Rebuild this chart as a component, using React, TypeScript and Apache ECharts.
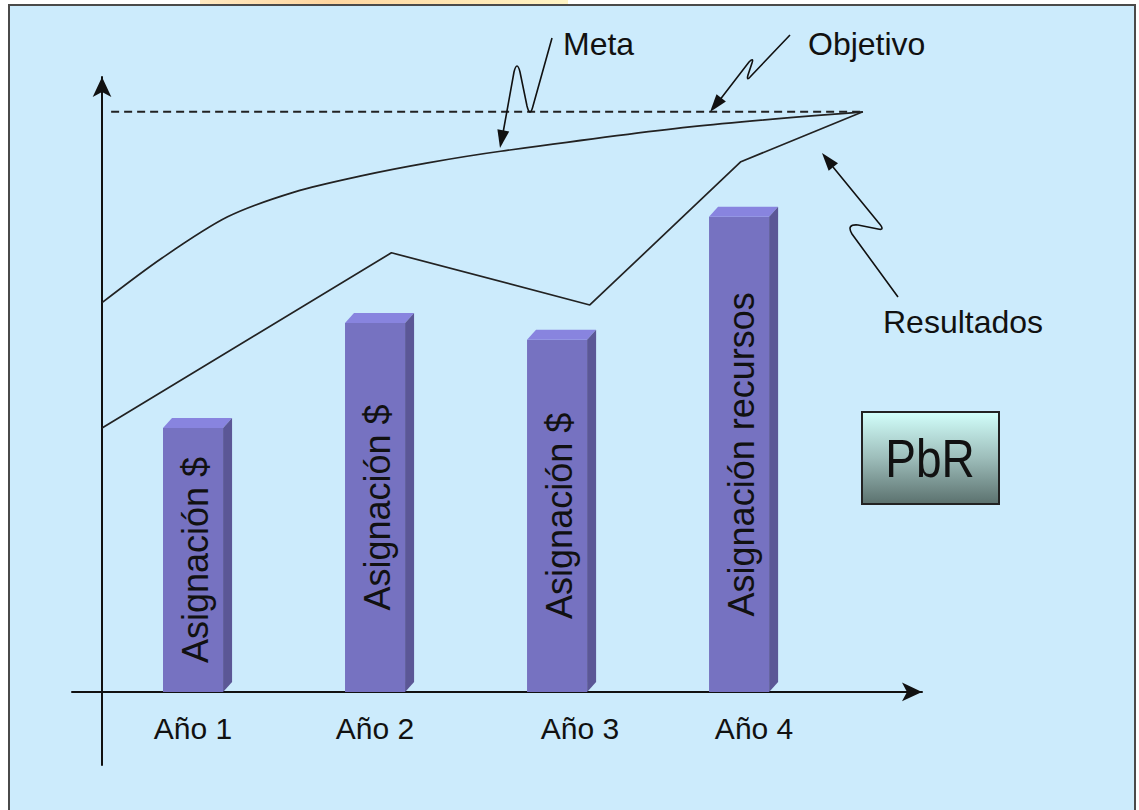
import React, { useEffect, useRef } from 'react';
import * as echarts from 'echarts';

const categories = ['Año 1', 'Año 2', 'Año 3', 'Año 4'];
const barPositions = [0.5, 1.5, 2.5, 3.5];
const barValues = [45.5, 63.6, 60.7, 81.9];
const barLabels = ['Asignación $', 'Asignación $', 'Asignación $', 'Asignación recursos'];
const metaX = [0, 0.33, 0.69, 1.06, 1.43, 1.79, 2.19, 3.23, 4.18];
const metaY = [67.1, 74.8, 81.9, 86.2, 89.0, 91.2, 93.2, 97.4, 100];
const resultadosX = [0, 1.59, 2.68, 3.51, 4.18];
const resultadosY = [45.5, 75.7, 66.7, 91.4, 100];
const objetivoX = [0.05, 4.18];
const objetivoValue = 100;

const FONT = '"Liberation Sans", Arial, Helvetica, sans-serif';

let registered = false;
function registerShapes() {
  if (registered) return;
  registered = true;
  echarts.graphic.registerShape(
    'metaCallout',
    echarts.graphic.extendPath('M552,38 L533,106 Q530,118 527,106 L520,72 Q517,60 514,72 L503,133', {})
  );
  echarts.graphic.registerShape(
    'objCallout',
    echarts.graphic.extendPath('M790,35 L751,76 Q746,82 748,75 L752,63 Q754,57 749,62 L719,101', {})
  );
  echarts.graphic.registerShape(
    'resCallout',
    echarts.graphic.extendPath('M898,297 L852,234 Q846,224 858,225 L878,229 Q886,231 878,222 L833,167', {})
  );
}

export default function App() {
  const ref = useRef<HTMLDivElement>(null);

  useEffect(() => {
    if (!ref.current) return;
    registerShapes();
    const chart = echarts.init(ref.current, null, { renderer: 'svg' });

    const barData = barPositions.map((x, i) => [x, barValues[i]]);
    const metaData = metaX.map((x, i) => [x, metaY[i]]);
    const resData = resultadosX.map((x, i) => [x, resultadosY[i]]);
    const objData = objetivoX.map((x) => [x, objetivoValue]);

    const labelStyle = { fontSize: 30, fontFamily: FONT, color: '#111' };
    const xMin = -0.165;
    const xMax = 4.505;

    const option: any = {
      animation: false,
      backgroundColor: '#ffffff',
      grid: { left: 72, right: 217, top: 77, bottom: 45, containLabel: false },
      xAxis: [
        {
          type: 'value',
          min: xMin,
          max: xMax,
          splitLine: { show: false },
          axisTick: { show: false },
          axisLabel: { show: false },
          axisLine: {
            show: true,
            onZero: true,
            symbol: ['none', 'arrow'],
            symbolSize: [14, 20],
            lineStyle: { color: '#111', width: 2 },
          },
        },
        {
          type: 'value',
          min: xMin,
          max: xMax,
          position: 'bottom',
          offset: -73,
          splitLine: { show: false },
          axisTick: { show: false },
          axisLine: { show: false, onZero: false },
          axisLabel: {
            show: true,
            customValues: barPositions,
            margin: 21,
            ...labelStyle,
            formatter: (v: number) => {
              const i = barPositions.findIndex((p) => Math.abs(p - v) < 1e-6);
              if (i < 0) return '';
              if (i === 2) return `{s3|${categories[i]}}`;
              if (i === 3) return `{s4|${categories[i]}}`;
              return `{n|${categories[i]}}`;
            },
            rich: {
              n: { ...labelStyle },
              s3: { ...labelStyle, padding: [0, 0, 0, 46] },
              s4: { ...labelStyle, padding: [0, 0, 0, 30] },
            },
          },
        },
      ],
      yAxis: {
        type: 'value',
        min: -12.6,
        max: 106,
        splitLine: { show: false },
        axisTick: { show: false },
        axisLabel: { show: false },
        axisLine: {
          show: true,
          onZero: true,
          symbol: ['none', 'arrow'],
          symbolSize: [14, 20],
          lineStyle: { color: '#111', width: 2 },
        },
      },
      series: [
        {
          type: 'custom',
          name: 'Asignación',
          data: barData,
          encode: { x: 0, y: 1 },
          z: 3,
          renderItem: (params: any, api: any) => {
            const x = api.value(0);
            const v = api.value(1);
            const top = api.coord([x, v]);
            const base = api.coord([x, 0]);
            const w = api.size([0.33, 0])[0];
            const dx = 9;
            const dy = 10;
            const left = top[0] - w / 2;
            const right = top[0] + w / 2;
            return {
              type: 'group',
              children: [
                {
                  type: 'rect',
                  shape: { x: left, y: top[1], width: w, height: base[1] - top[1] },
                  style: { fill: '#7672C1' },
                },
                {
                  type: 'polygon',
                  shape: {
                    points: [
                      [left, top[1]],
                      [left + dx, top[1] - dy],
                      [right + dx, top[1] - dy],
                      [right, top[1]],
                    ],
                  },
                  style: { fill: '#8884DF' },
                },
                {
                  type: 'polygon',
                  shape: {
                    points: [
                      [right, top[1]],
                      [right + dx, top[1] - dy],
                      [right + dx, base[1] - dy],
                      [right, base[1]],
                    ],
                  },
                  style: { fill: '#5B5796' },
                },
                {
                  type: 'text',
                  x: (left + right) / 2 + 2,
                  y: (top[1] + base[1]) / 2,
                  rotation: Math.PI / 2,
                  style: {
                    text: barLabels[params.dataIndex],
                    fontSize: 36,
                    fontFamily: FONT,
                    fill: '#111',
                    align: 'center',
                    verticalAlign: 'middle',
                  },
                },
              ],
            };
          },
        },
        {
          type: 'line',
          name: 'Objetivo',
          data: objData,
          symbol: 'none',
          z: 4,
          lineStyle: { color: '#222', width: 2, type: [8, 5] },
        },
        {
          type: 'line',
          name: 'Meta',
          data: metaData,
          smooth: 0.3,
          symbol: 'none',
          z: 4,
          lineStyle: { color: '#222', width: 1.7 },
        },
        {
          type: 'line',
          name: 'Resultados',
          data: resData,
          symbol: 'none',
          z: 4,
          lineStyle: { color: '#222', width: 1.7 },
        },
      ],
      graphic: [
        {
          type: 'rect',
          z: -10,
          silent: true,
          shape: { x: 200, y: 0, width: 368, height: 6 },
          style: {
            fill: new echarts.graphic.LinearGradient(0, 0, 1, 0, [
              { offset: 0, color: '#FFE9C0' },
              { offset: 0.35, color: '#FFD6A0' },
              { offset: 1, color: '#FFF4C4' },
            ]),
          },
        },
        {
          type: 'rect',
          z: -10,
          silent: true,
          shape: { x: 9, y: 5, width: 1126, height: 840 },
          style: { fill: '#CCEBFC', stroke: '#4a4a4a', lineWidth: 2 },
        },
        { type: 'metaCallout', z: 10, silent: true, style: { fill: null, stroke: '#111', lineWidth: 1.6 } },
        {
          type: 'polygon',
          z: 10,
          silent: true,
          shape: { points: [[500, 148], [509.2, 131.4], [497.4, 129.2]] },
          style: { fill: '#111' },
        },
        { type: 'objCallout', z: 10, silent: true, style: { fill: null, stroke: '#111', lineWidth: 1.6 } },
        {
          type: 'polygon',
          z: 10,
          silent: true,
          shape: { points: [[710, 112], [725.9, 101.6], [716.5, 94.2]] },
          style: { fill: '#111' },
        },
        { type: 'resCallout', z: 10, silent: true, style: { fill: null, stroke: '#111', lineWidth: 1.6 } },
        {
          type: 'polygon',
          z: 10,
          silent: true,
          shape: { points: [[822, 153], [838, 163.2], [828.7, 170.8]] },
          style: { fill: '#111' },
        },
        {
          type: 'text',
          z: 10,
          x: 563,
          y: 44,
          silent: true,
          style: { text: 'Meta', fontSize: 32, fontFamily: FONT, fill: '#111', verticalAlign: 'middle' },
        },
        {
          type: 'text',
          z: 10,
          x: 808,
          y: 44,
          silent: true,
          style: { text: 'Objetivo', fontSize: 32, fontFamily: FONT, fill: '#111', verticalAlign: 'middle' },
        },
        {
          type: 'text',
          z: 10,
          x: 883,
          y: 322,
          silent: true,
          style: { text: 'Resultados', fontSize: 32, fontFamily: FONT, fill: '#111', verticalAlign: 'middle' },
        },
        {
          type: 'rect',
          z: 10,
          silent: true,
          shape: { x: 862, y: 412, width: 137, height: 92 },
          style: {
            fill: new echarts.graphic.LinearGradient(0, 0, 0, 1, [
              { offset: 0, color: '#D2FFFB' },
              { offset: 0.5, color: '#9DBDBA' },
              { offset: 1, color: '#5B716E' },
            ]),
            stroke: '#222',
            lineWidth: 2,
          },
        },
        {
          type: 'text',
          z: 11,
          x: 930,
          y: 458,
          scaleY: 1.18,
          silent: true,
          style: {
            text: 'PbR',
            fontSize: 46,
            fontFamily: FONT,
            fill: '#111',
            align: 'center',
            verticalAlign: 'middle',
          },
        },
      ],
    };

    chart.setOption(option);
    return () => chart.dispose();
  }, []);

  return (
    <div
      ref={ref}
      style={{ position: 'fixed', left: 0, top: 0, width: 1139, height: 810 }}
    />
  );
}
